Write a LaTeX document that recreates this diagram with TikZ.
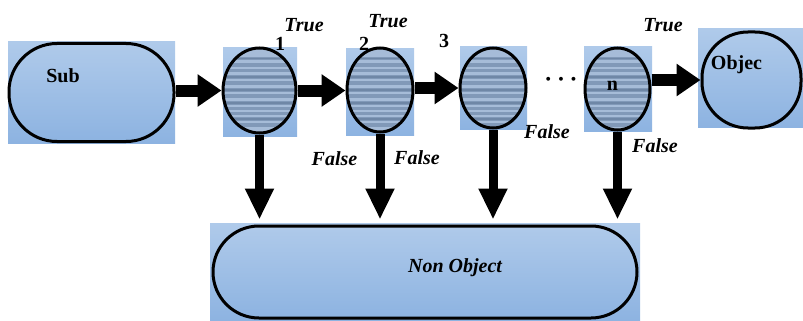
\documentclass[tikz,border=0pt]{standalone}
\usepackage{fontspec}
\setmainfont{Liberation Serif}
\usetikzlibrary{arrows.meta,shapes.geometric}
\definecolor{bgtop}{HTML}{AFCAEA}
\definecolor{bgbot}{HTML}{8DB3E1}
\definecolor{stbase}{HTML}{8199B8}
\definecolor{stlight}{HTML}{A6BCD8}
\definecolor{stdark}{HTML}{6F87A6}
\tikzset{
 bgrect/.style={top color=bgtop,bottom color=bgbot,draw=none},
 termbox/.style={draw=black,line width=3pt,top color=bgtop,bottom color=bgbot,inner sep=0pt},
 decision/.style={ellipse,draw=black,line width=3pt,fill=stbase,inner sep=0pt,
   path picture={
     \foreach \a/\b in {0/9,12/15,19/21,24/27,31/33,37/40,44/46,50/53,57/59,62/64,67/69,73/75,79/95}
       \fill[stlight] ([yshift=-\a pt]path picture bounding box.north west) rectangle ([yshift=-\b pt]path picture bounding box.north east);
     \foreach \a/\b in {10/11,28/30,41/43,54/56,70/72}
       \fill[stdark] ([yshift=-\a pt]path picture bounding box.north west) rectangle ([yshift=-\b pt]path picture bounding box.north east);
   }},
 lbl/.style={font=\fontsize{20}{24}\selectfont\bfseries\itshape,anchor=base,inner sep=0pt},
 txt/.style={font=\fontsize{20}{24}\selectfont\bfseries,anchor=base,inner sep=0pt},
 harrow/.style={line width=12pt,-{Triangle[length=24pt,width=31pt]}},
 varrow/.style={line width=9pt,-{Triangle[length=31pt,width=27pt]},shorten >=5pt},
}
\begin{document}
\begin{tikzpicture}[x=1pt,y=-1pt]
\useasboundingbox (0,0) rectangle (803,321);
% background rectangles
\fill[bgrect] (8,42) rectangle (175,143);
\fill[bgrect] (223,48) rectangle (297,136);
\fill[bgrect] (346,49) rectangle (414,135);
\fill[bgrect] (460,47) rectangle (527,129);
\fill[bgrect] (584,47) rectangle (652,131);
\fill[bgrect] (698,29) rectangle (803,127);
\fill[bgrect] (210,223) rectangle (640,321);
% shapes
\node[termbox,rounded corners=48pt,minimum width=165pt,minimum height=98pt] (sub) at (91.5,92.5) {};
\node[decision,minimum width=73pt,minimum height=85pt] (c1) at (259.5,90.5) {};
\node[decision,minimum width=66pt,minimum height=84pt] (c2) at (380,90) {};
\node[decision,minimum width=66pt,minimum height=80pt] (c3) at (493,88) {};
\node[decision,minimum width=65pt,minimum height=82pt] (cn) at (617.5,89) {};
\node[termbox,rounded corners=46pt,minimum width=99pt,minimum height=96pt] (obj) at (751.5,80) {};
\node[termbox,rounded corners=46pt,minimum width=424pt,minimum height=92pt] (non) at (425,272) {};
% texts
\node[txt] (subt) at (63,82) {Sub};
\node[txt] (objt) at (736.5,70) {Objec};
\node[txt] (nt) at (612.5,90) {n};
\node[lbl] (nont) at (455,272) {Non Object};
\node[txt] (l1) at (280,51) {1};
\node[txt] (l2) at (364,51) {2};
\node[txt] (l3) at (444,48) {3};
\node[lbl] (t1) at (304,32) {True};
\node[lbl] (t2) at (388,28) {True};
\node[lbl] (t3) at (663,32) {True};
\node[lbl] (f1) at (334.5,165) {False};
\node[lbl] (f2) at (417,164) {False};
\node[lbl] (f3) at (547,138) {False};
\node[lbl] (f4) at (655,152) {False};
\node[inner sep=0pt,font=\fontsize{26}{30}\selectfont\boldmath] (dots) at (561,80) {$\cdots$};
% connectors
\draw[harrow] (sub.east |- c1.west) -- (c1.west);
\draw[harrow] (c1.east) -- (c1.east -| c2.west);
\draw[harrow] (c3.west -| c2.east) -- (c3.west);
\draw[harrow] (cn.east |- obj.west) -- (obj.west);
\draw[varrow] (c1.south) -- (c1.south |- non.north);
\draw[varrow] (c2.south) -- (c2.south |- non.north);
\draw[varrow] (c3.south) -- (c3.south |- non.north);
\draw[varrow] (cn.south) -- (cn.south |- non.north);
\end{tikzpicture}
\end{document}
